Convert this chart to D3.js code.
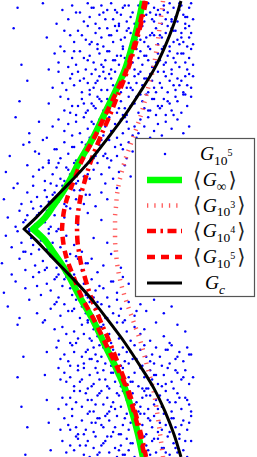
<!DOCTYPE html>
<html><head><meta charset="utf-8">
<script src="https://cdn.jsdelivr.net/npm/d3@7"></script>
<style>html,body{margin:0;padding:0;background:#fff;overflow:hidden}</style>
</head><body><svg id="c" width="257" height="457"></svg>
<script>
// half-curve levels (curves are symmetric about y = 0)
const yLevels = [0,5,10,15,20,30,40,50,60,70,80,90,100];
const gInf = [16.9,23.1,27.2,31.3,34.9,41.0,47.7,53.3,59.0,64.1,67.7,70.8,73.3];
const g1e5 = [31.8,32.3,33.3,35.0,37.3,42.0,48.3,54.0,59.7,65.0,68.6,71.7,74.2];
const g1e4 = [39.5,39.7,40.5,41.5,43.1,46.7,51.3,56.4,61.0,65.6,69.2,72.3,74.9];
const g1e3 = [59.0,59.0,59.5,60.0,61.0,64.1,68.2,72.3,75.4,78.5,80.5,82.1,83.6];
const gC   = [12.3,18.5,24.1,29.7,35.4,46.2,55.4,64.1,71.8,79.0,84.6,89.2,92.8];

// scatter sample G_{10^5}
const scatter = [
[9,97],[22,99],[29,90],[32,96],[35,92],[37,98],[39,95],[41,95],[43,91],[45,99],[46,93],[48,97],[49,90],[51,94],[52,98],[54,92],[55,96],[57,99],[58,92],[59,96],[61,90],[62,94],[63,97],[65,91],[66,98],[67,93],[68,95],[70,90],[71,98],[72,93],[73,96],[74,91],[76,99],[77,95],[78,92],[79,97],[80,94],[81,96],[82,94],[83,90],[84,98],[85,92],[86,95],[87,99],[88,91],[89,97],[90,93],[91,91],[92,96],[93,98],[94,94],[95,90],[96,93],[97,97],[98,99],[99,92],[60,95],[64,98],[69,90],[75,94],[79,91],[84,96],[88,92],[92,99],[95,93],[53,95],[47,97],
[7,88],[24,84],[31,80],[33,87],[36,85],[38,82],[40,87],[42,85],[44,83],[45,89],[47,82],[49,86],[50,81],[52,84],[53,80],[55,88],[56,85],[58,82],[59,89],[60,87],[62,83],[63,80],[64,84],[66,88],[67,86],[69,81],[70,83],[71,87],[73,89],[74,82],[75,84],[76,80],[78,86],[79,85],[80,88],[81,81],[82,85],[83,84],[85,86],[86,89],[87,80],[88,88],[89,82],[90,87],[91,83],[92,81],[93,86],[94,82],[95,88],[96,80],[97,84],[98,86],[99,81],[57,85],[61,89],[65,87],[68,82],[72,83],[77,85],[84,80],[89,87],[93,84],[97,89],[46,81],[51,88],
[11,72],[25,70],[28,77],[30,73],[33,78],[35,71],[37,75],[39,72],[41,78],[43,75],[44,70],[46,76],[48,73],[50,79],[51,77],[53,71],[54,74],[56,78],[57,70],[59,74],[60,76],[61,72],[63,79],[64,75],[65,71],[67,77],[68,73],[69,70],[71,75],[72,78],[73,72],[75,76],[76,74],[77,79],[78,71],[80,73],[81,77],[82,74],[83,79],[84,72],[86,76],[87,78],[88,70],[89,75],[90,73],[91,77],[92,71],[94,77],[95,73],[96,70],[97,75],[98,79],[99,72],[55,78],[58,74],[62,76],[66,71],[70,79],[74,76],[79,71],[85,73],[93,77],[45,74],[49,70],[38,78],[52,72],
[14,65],[27,62],[30,69],[32,64],[34,61],[36,66],[38,63],[40,69],[42,60],[43,66],[45,64],[47,68],[48,62],[50,65],[51,67],[52,61],[54,66],[55,61],[56,68],[58,63],[59,69],[61,65],[62,60],[64,67],[65,62],[66,64],[68,61],[69,67],[70,64],[72,69],[73,63],[74,66],[76,60],[77,68],[78,65],[79,62],[81,69],[82,64],[83,62],[85,67],[86,60],[87,65],[88,68],[90,61],[91,66],[92,63],[93,65],[94,60],[96,63],[97,68],[98,62],[99,67],[53,69],[57,66],[60,61],[63,64],[67,62],[71,68],[75,66],[80,60],[84,69],[89,63],[95,67],[41,65],[46,61],[49,64],[37,68],
[10,56],[25,55],[31,58],[33,52],[35,57],[37,54],[39,50],[40,54],[42,57],[44,51],[46,59],[47,55],[49,53],[50,58],[52,56],[53,52],[55,57],[56,52],[57,55],[59,59],[60,51],[62,56],[63,50],[64,53],[66,58],[67,54],[68,55],[70,58],[71,51],[73,56],[74,53],[75,59],[77,52],[78,57],[80,50],[81,54],[82,53],[84,57],[85,50],[87,55],[88,52],[90,58],[91,56],[93,51],[95,59],[96,54],[98,58],[54,51],[58,56],[61,53],[65,50],[69,55],[72,59],[76,52],[79,57],[83,54],[86,56],[89,50],[94,59],[45,52],[48,54],[51,57],[36,51],[43,55],
[8,49],[15,42],[20,47],[24,40],[27,45],[30,48],[33,43],[35,46],[37,41],[39,47],[41,42],[43,49],[45,44],[46,40],[48,46],[50,43],[51,48],[53,41],[54,45],[56,49],[57,43],[59,46],[60,40],[62,48],[63,42],[65,47],[66,44],[68,41],[69,45],[71,42],[72,48],[74,45],[76,49],[77,40],[79,43],[81,46],[83,41],[85,47],[88,44],[91,48],[94,42],[97,45],[52,46],[58,43],[64,49],[70,40],[47,47],
[5,32],[12,37],[18,34],[22,39],[25,30],[28,35],[31,31],[33,38],[35,33],[37,36],[38,36],[40,30],[42,38],[43,33],[45,35],[46,39],[48,31],[50,34],[51,37],[53,32],[54,33],[56,39],[57,30],[59,36],[60,32],[62,37],[63,35],[65,31],[66,38],[68,34],[44,37],[49,32],[52,39],[39,30],[29,35],[20,33],[15,38],[55,31],
[3,25],[9,20],[14,28],[17,23],[20,26],[23,21],[25,29],[27,24],[29,27],[31,22],[33,21],[34,27],[36,24],[38,29],[39,20],[41,25],[43,23],[44,28],[46,22],[48,26],[50,29],[52,24],[54,20],[56,27],[58,22],[61,25],[64,28],[67,23],[35,26],[40,21],[45,24],[30,29],[22,27],[26,20],
[2,13],[7,18],[11,11],[14,16],[17,19],[19,14],[21,10],[23,17],[25,12],[27,15],[28,16],[30,12],[32,19],[34,10],[35,14],[37,18],[39,13],[41,17],[43,11],[46,15],[49,10],[52,16],[55,13],[60,18],[24,14],[29,19],[33,11],[38,17],[16,12],[44,15],
[4,5],[8,1],[10,8],[12,3],[14,6],[15,0],[17,9],[18,2],[20,7],[21,4],[23,3],[24,8],[26,1],[28,6],[30,0],[33,5],[36,9],[40,2],[45,7],[52,4],[19,6],[25,0],[13,4],[27,9],
[3,-3],[6,-8],[9,-1],[11,-6],[13,-10],[16,-4],[17,-7],[19,-2],[20,-9],[22,-5],[24,-9],[25,-2],[27,-6],[29,-1],[31,-8],[34,-3],[38,-7],[42,-10],[48,-4],[55,-6],[15,-1],[21,-5],[26,-8],[12,-10],
[1,-15],[6,-20],[10,-13],[13,-18],[16,-11],[18,-16],[20,-19],[22,-14],[24,-17],[26,-12],[27,-12],[29,-17],[31,-14],[33,-19],[35,-16],[36,-11],[38,-20],[40,-13],[42,-18],[44,-15],[47,-13],[50,-19],[53,-16],[57,-11],[62,-17],[30,-20],[34,-14],[39,-12],[23,-18],[45,-15],
[2,-28],[8,-23],[13,-26],[17,-21],[21,-29],[24,-24],[26,-27],[28,-22],[30,-30],[32,-25],[34,-21],[36,-26],[37,-29],[39,-23],[41,-28],[43,-24],[45,-30],[47,-22],[49,-27],[51,-25],[53,-26],[55,-30],[57,-23],[60,-28],[63,-21],[66,-24],[40,-27],[44,-29],[33,-22],[19,-25],[48,-30],[58,-23],[38,-26],[29,-21],
[4,-34],[10,-39],[15,-31],[19,-37],[23,-40],[26,-35],[29,-32],[31,-38],[33,-33],[35,-36],[37,-36],[39,-31],[41,-39],[42,-34],[44,-37],[46,-32],[47,-40],[49,-35],[51,-38],[52,-33],[54,-39],[56,-34],[58,-37],[60,-31],[62,-35],[64,-40],[66,-32],[69,-38],[72,-33],[75,-36],[79,-31],[84,-37],[88,-34],[45,-40],[50,-32],[55,-39],[38,-35],[28,-33],[61,-38],[70,-36],
[9,-42],[22,-41],[28,-44],[30,-49],[32,-43],[34,-46],[36,-50],[38,-45],[40,-48],[42,-42],[43,-46],[45,-41],[47,-49],[48,-44],[50,-47],[52,-43],[53,-42],[55,-47],[57,-50],[59,-44],[61,-48],[63,-41],[65,-45],[67,-49],[69,-43],[72,-46],[74,-44],[77,-49],[80,-41],[84,-47],[87,-50],[91,-42],[95,-45],[46,-48],[51,-43],[56,-46],[60,-41],[39,-50],
[12,-56],[24,-54],[29,-52],[31,-57],[33,-55],[35,-58],[37,-51],[38,-54],[40,-60],[42,-56],[43,-59],[45,-53],[46,-57],[48,-52],[49,-55],[51,-51],[52,-56],[54,-59],[55,-54],[57,-60],[58,-53],[60,-57],[61,-55],[63,-52],[64,-58],[66,-59],[67,-54],[69,-51],[70,-57],[72,-53],[73,-60],[75,-56],[77,-58],[78,-55],[80,-52],[82,-56],[83,-60],[85,-53],[87,-59],[88,-51],[90,-57],[92,-54],[94,-58],[96,-52],[98,-55],[44,-54],[50,-58],[56,-52],[62,-60],[68,-57],[74,-51],[79,-59],[86,-53],[91,-56],[97,-55],[36,-60],[47,-57],[53,-52],[59,-59],[65,-54],
[9,-65],[23,-64],[31,-66],[33,-63],[34,-67],[36,-65],[38,-69],[40,-62],[41,-67],[43,-61],[45,-70],[46,-64],[48,-68],[50,-63],[51,-66],[53,-62],[54,-66],[56,-70],[57,-63],[59,-67],[60,-64],[62,-69],[63,-61],[65,-68],[66,-65],[68,-67],[69,-63],[71,-69],[72,-61],[74,-65],[75,-70],[77,-62],[78,-66],[80,-64],[81,-68],[83,-69],[84,-64],[86,-61],[88,-67],[89,-70],[91,-63],[93,-66],[95,-62],[97,-68],[99,-65],[42,-66],[49,-61],[55,-69],[61,-63],[67,-67],[73,-70],[79,-64],[85,-68],[90,-62],[94,-65],[30,-61],[47,-69],[58,-63],[64,-67],[76,-70],
[11,-78],[24,-75],[30,-79],[32,-74],[34,-77],[36,-74],[37,-79],[39,-76],[41,-71],[42,-78],[44,-72],[46,-80],[47,-75],[49,-77],[50,-73],[52,-71],[53,-77],[55,-74],[56,-80],[58,-76],[59,-79],[61,-73],[62,-78],[64,-72],[65,-75],[67,-78],[68,-72],[70,-76],[71,-80],[73,-74],[74,-71],[76,-79],[77,-73],[79,-77],[80,-75],[82,-73],[83,-78],[85,-71],[86,-75],[88,-80],[90,-76],[91,-72],[93,-79],[95,-74],[97,-77],[98,-80],[45,-75],[51,-72],[57,-78],[63,-71],[69,-77],[75,-73],[81,-79],[87,-76],[92,-74],[96,-75],[38,-71],[48,-80],[60,-72],[72,-78],
[14,-87],[25,-85],[31,-88],[33,-83],[35,-86],[37,-82],[39,-87],[40,-90],[42,-84],[44,-88],[45,-81],[47,-85],[48,-89],[50,-83],[52,-86],[53,-87],[55,-81],[56,-84],[58,-89],[60,-82],[61,-90],[63,-86],[64,-83],[66,-88],[67,-85],[69,-84],[70,-88],[72,-81],[73,-86],[75,-90],[76,-83],[78,-87],[79,-82],[81,-89],[82,-85],[84,-81],[85,-86],[87,-89],[89,-83],[90,-87],[92,-90],[94,-84],[96,-88],[98,-82],[43,-90],[49,-85],[54,-82],[59,-87],[65,-81],[71,-89],[77,-84],[83,-88],[88,-83],[93,-86],[97,-85],[36,-88],[51,-83],[62,-90],[74,-81],
[13,-99],[26,-97],[32,-93],[34,-98],[36,-95],[38,-97],[40,-92],[41,-95],[43,-99],[45,-93],[46,-100],[48,-96],[49,-91],[51,-98],[53,-94],[54,-93],[56,-98],[57,-91],[59,-96],[60,-100],[62,-95],[63,-99],[65,-92],[66,-97],[68,-94],[69,-100],[71,-94],[72,-97],[74,-91],[75,-95],[77,-99],[78,-93],[80,-98],[81,-92],[83,-96],[84,-96],[86,-91],[87,-99],[89,-94],[91,-98],[92,-92],[94,-97],[96,-100],[98,-93],[44,-95],[50,-99],[55,-91],[61,-97],[67,-94],[73,-100],[79,-92],[85,-98],[90,-96],[95,-93],[39,-91],[52,-95],[64,-99],[76,-97]
];

const svg = d3.select('#c');
const x = d3.scaleLinear().domain([0,100]).range([0,195]);
const y = d3.scaleLinear().domain([-100,100]).range([457,1]);

// points
svg.append('g').selectAll('circle').data(scatter).join('circle')
  .attr('cx', d => x(d[0])).attr('cy', d => y(d[1])).attr('r', 1.25).attr('fill', '#0000ff');

const line = d3.line().x(d => x(d[0])).y(d => y(d[1])).curve(d3.curveMonotoneY);
function vPath(xs) {
  const top = yLevels.map((v,i) => [xs[i], v]).reverse();
  const bot = yLevels.map((v,i) => [xs[i], -v]);
  return line(top) + line(bot).replace(/^M[^A-Za-z]*/, '');
}

const series = [
  {xs: gInf, color: '#00ff00', w: 6.5, dash: null},
  {xs: g1e3, color: '#ff5a5a', w: 4.5, dash: '1.3 6'},
  {xs: g1e4, color: '#ff0000', w: 4.5, dash: '9 4.5 2.5 4.5'},
  {xs: g1e5, color: '#ff0000', w: 4.5, dash: '8 6'},
  {xs: gC,   color: '#000000', w: 3, dash: null}
];
svg.append('g').selectAll('path').data(series).join('path')
  .attr('d', d => vPath(d.xs)).attr('fill', 'none')
  .attr('stroke', d => d.color).attr('stroke-width', d => d.w)
  .attr('stroke-dasharray', d => d.dash).attr('stroke-linejoin', 'round');

// legend
const lg = svg.append('g');
lg.append('rect').attr('x', 135.5).attr('y', 138.5).attr('width', 119).attr('height', 158)
  .attr('fill', '#fff').attr('stroke', '#555').attr('stroke-width', 1.2);
const rowY = [154, 180, 205.5, 231, 257, 283];
lg.append('circle').attr('cx', 165).attr('cy', rowY[0]).attr('r', 1.25).attr('fill', '#0000ff');
series.forEach((s, i) => {
  lg.append('line').attr('x1', 147).attr('x2', 182).attr('y1', rowY[i+1]).attr('y2', rowY[i+1])
    .attr('stroke', s.color).attr('stroke-width', s.w).attr('stroke-dasharray', s.dash);
});
const labels = [
  {br: false, sub: '10', sup: '5', x0: 200},
  {br: true, sub: '\u221e', sup: null, x0: 193},
  {br: true, sub: '10', sup: '3', x0: 193},
  {br: true, sub: '10', sup: '4', x0: 193},
  {br: true, sub: '10', sup: '5', x0: 193},
  {br: false, sub: 'c', sup: null, x0: 205, it: true}
];
labels.forEach((L, i) => {
  const base = rowY[i] + 6;
  const t = lg.append('text').attr('x', L.x0).attr('y', base).attr('fill', '#000')
    .style('font-family', '"Liberation Serif", "DejaVu Serif", serif');
  if (L.br) t.append('tspan').text('\u27e8').style('font-family', '"DejaVu Sans", sans-serif')
    .style('font-size', '21px').attr('dy', 0.5).attr('fill','#222');
  t.append('tspan').text('G').style('font-style', 'italic').style('font-size', '19.5px')
    .attr('dx', L.br ? 1.5 : 0).attr('dy', L.br ? -0.5 : 0);
  t.append('tspan').text(L.sub).style('font-size', '13.5px').attr('dy', 4.5)
    .style('font-style', L.it ? 'italic' : 'normal');
  let dyBack = -4;
  if (L.sup) { t.append('tspan').text(L.sup).style('font-size', '10px').attr('dy', -8.5); dyBack = 4.5; }
  if (L.br) t.append('tspan').text('\u27e9').style('font-family', '"DejaVu Sans", sans-serif')
    .style('font-size', '21px').attr('dy', dyBack).attr('dx', 2).attr('fill','#222');
});
</script></body></html>
